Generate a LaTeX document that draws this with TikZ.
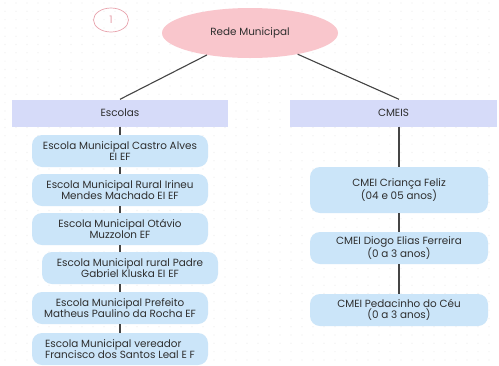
\documentclass[tikz,border=0pt]{standalone}
\usepackage{fontspec}
\setmainfont{Poppins}
\usepackage{xcolor}
\usetikzlibrary{shapes,arrows,positioning}

\definecolor{redepink}{HTML}{F9C6CC}
\definecolor{markpink}{HTML}{E8A3AD}
\definecolor{grouplav}{HTML}{D6DBF9}
\definecolor{unitblue}{HTML}{CBE5F9}
\definecolor{linkgray}{HTML}{454545}
\definecolor{textgray}{HTML}{2E2E2E}

\tikzset{
  group/.style={rectangle, fill=grouplav, minimum width=216pt, minimum height=27pt, text=textgray},
  unit/.style={rectangle, rounded corners=10pt, fill=unitblue, minimum width=176pt, minimum height=32pt, align=center, text=textgray, inner sep=2pt},
  link/.style={draw=linkgray, line width=1.1pt}
}

\begin{document}
\begin{tikzpicture}[x=1pt, y=-1pt, font=\fontsize{10.4}{10.6}\selectfont, node distance=39pt]
\useasboundingbox (0,0) rectangle (499,365);
\fill[white] (0,0) rectangle (499,365);
% dotted background
\foreach \x in {5,16,...,499}
  \foreach \y in {3,11.3,...,365}
    \fill[gray!14] (\x,\y) circle (0.6pt);

\node (mark) [draw=markpink, line width=0.7pt, ellipse, minimum width=35pt, minimum height=24pt, text=markpink] at (111,20) {1};
\node (rede) [ellipse, fill=redepink, minimum width=176pt, minimum height=50pt, text=textgray] at (250,33) {Rede Municipal};

\node (escolas) [group] at (120,113) {Escolas};
\node (cmeis) [group, minimum width=207pt] at (393.5,113) {CMEIS};

% escolas
\node (esc1) [unit] at (120,151) {Escola Municipal Castro Alves\\EI EF};
\node (esc2) [unit, below of=esc1] {Escola Municipal Rural Irineu\\Mendes Machado EI EF};
\node (esc3) [unit, below of=esc2] {Escola Municipal Otávio\\Muzzolon EF};
\node (esc4) [unit, below of=esc3, xshift=10pt] {Escola Municipal rural Padre\\Gabriel Kluska EI EF};
\node (esc5) [unit, below of=esc4, xshift=-10pt, node distance=40pt] {Escola Municipal Prefeito\\Matheus Paulino da Rocha EF};
\node (esc6) [unit, below of=esc5, node distance=41pt, align=left] {Escola Municipal vereador\\Francisco dos Santos Leal E F};

% cmeis
\node (cmei1) [unit, minimum width=178pt, minimum height=46pt] at (399,190) {CMEI Criança Feliz\\(04 e 05 anos)};
\node (cmei2) [unit, minimum width=178pt, below of=cmei1, node distance=58pt] {CMEI Diogo Elias Ferreira\\(0 a 3 anos)};
\node (cmei3) [unit, minimum width=178pt, below of=cmei2, node distance=62pt] {CMEI Pedacinho do Céu\\(0 a 3 anos)};

\draw[link] (rede) -- (escolas.north);
\draw[link] (rede) -- (cmeis.north -| cmei1);
\draw[link] (escolas) -- (esc1);
\draw[link] (esc1) -- (esc2);
\draw[link] (esc2) -- (esc3);
\draw[link] (esc3) -- (esc3 |- esc4.north);
\draw[link] (esc4.south -| esc5) -- (esc5);
\draw[link] (esc5) -- (esc6);
\draw[link] (cmeis.south -| cmei1) -- (cmei1);
\draw[link] (cmei1) -- (cmei2);
\draw[link] (cmei2) -- (cmei3);
\end{tikzpicture}
\end{document}
